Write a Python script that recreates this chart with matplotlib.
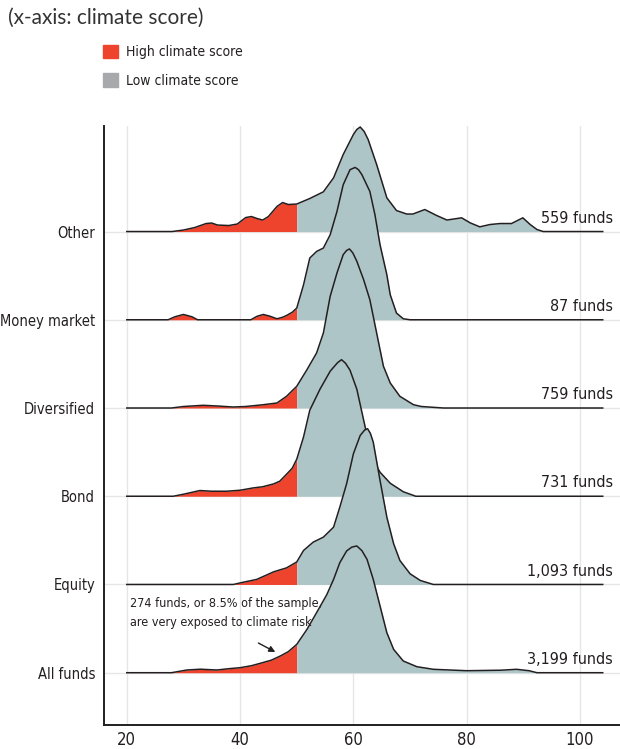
import matplotlib.pyplot as plt
from matplotlib.patches import Patch
import numpy as np

plt.rcParams['font.family'] = ['DejaVu Sans']
plt.rcParams['font.stretch'] = 'condensed'

groups = ['All funds', 'Equity', 'Bond', 'Diversified', 'Money market', 'Other']
fund_counts = ['3,199 funds', '1,093 funds', '731 funds', '759 funds', '87 funds', '559 funds']
x_ticks = [20, 40, 60, 80, 100]
cutoff = 50

# climate score / density (arbitrary units)
all_x = [20, 27.9, 30.6, 33, 35.9, 38, 40, 42, 43.5, 45.5, 47.1, 48.5, 50, 51.8, 53.5, 55.3, 56.5,
         57.6, 58.8, 59.7, 60.6, 61.5, 62.4, 63.5, 64.7, 65.9, 67.1, 68.8, 71.2, 74.1, 80, 86,
         88.8, 91, 92.4, 104]
all_d = [0, 0, 2.7, 3.5, 2.7, 4, 5, 7, 9.3, 12.5, 16.7, 21, 28.3, 43.3, 60, 78, 93.3,
         110, 121.7, 125.5, 126.7, 122, 113.3, 93.3, 66.7, 40, 23.3, 11.7, 6, 3.4, 2, 2.5,
         3.4, 2, 0, 0]

equity_x = [20, 38.8, 40.6, 42.9, 44.5, 45.9, 48.2, 50, 51.2, 52.9, 54.7, 56.5, 57.6, 58.8, 60,
            61.2, 62, 62.5, 63, 63.5, 64.7, 65.9, 67.1, 68.2, 70, 71.8, 74.1, 104]
equity_d = [0, 0, 2.3, 5, 9, 12.6, 16.6, 22.5, 34, 42.3, 47.3, 57.3, 77.3, 100.7, 130.7,
            149, 154.5, 155.7, 151, 142.3, 104, 67.3, 40.7, 24, 10.7, 4, 0, 0]

bond_x = [20, 28.2, 30, 32.9, 35, 37.6, 40, 42.3, 44, 45.9, 47, 48.2, 49.2, 50, 51.2, 52.3, 54.1,
          55.9, 57.2, 57.9, 58.6, 59.4, 60.6, 61.5, 62.2, 62.9, 64.7, 66.5, 68.8, 71, 104]
bond_d = [0, 0, 2, 5.7, 5, 5, 6, 8.3, 9.5, 12.3, 15, 22, 28, 37, 59.3, 86, 107,
          125, 133.5, 136.5, 133, 126, 107, 84, 66, 42, 24, 13, 4.5, 0, 0]

diversified_x = [20, 27.9, 30, 33.5, 36, 38.8, 41, 44.1, 46.5, 48.2, 50, 51.8, 53.5, 54.7, 55.9,
                 57.1, 58.2, 58.8, 59.3, 59.9, 60.6, 61.8, 62.9, 64.1, 65.3, 66.5, 68.2, 70.6,
                 72, 75.9, 104]
diversified_d = [0, 0, 1.5, 2.7, 2, 1, 1.5, 3.3, 5, 11.7, 21.7, 38.3, 55, 75, 111.7,
                 135, 153.3, 157.5, 159, 155, 146.7, 128.3, 108.3, 75, 41.7, 25, 11.7, 3.3,
                 1.5, 0, 0]

money_x = [20, 27.3, 28.5, 30, 31.5, 32.5, 41.9, 43, 44.1, 45.3, 46.5, 47.5, 48.2, 49.2, 50, 51.2,
           52.3, 53.5, 54.7, 55.9, 57.1, 58.2, 59.4, 60.3, 60.9, 61.5, 62.9, 63.8, 64.7, 65.9,
           66.5, 67.6, 68.8, 70, 104]
money_d = [0, 0, 3, 5.3, 3, 0, 0, 3.5, 5.3, 3.5, 1, 2.5, 4.3, 7.5, 11.7, 35,
           61.7, 68.3, 71.7, 85, 108.3, 135, 150, 152.3, 150, 145, 128.3, 105, 75, 45,
           25, 6.7, 1, 0, 0]

other_x = [20, 28, 30, 32, 34, 35, 36, 38, 39.5, 41, 42, 43, 44, 45, 46.5, 47.5, 48.5, 50, 52.3,
           54.7, 56.5, 58.2, 60, 60.6, 61.2, 61.9, 62.6, 64.1, 65.9, 67.6, 69.4, 70.5, 72.6,
           74.7, 76.5, 79.1, 80.6, 82.3, 84.1, 85.9, 87.9, 89.9, 91.2, 92.4, 93.5, 104]
other_d = [0, 0, 1.5, 4, 8, 8.5, 6.5, 6, 7.5, 14, 15, 13, 11.5, 15, 25, 29, 27, 27.5, 33,
           39.7, 53.7, 77, 97, 102, 104.5, 100, 92, 67, 33.7, 21, 17.5, 17.5, 22,
           16, 11.5, 13.7, 8.7, 4.7, 7, 8, 8, 13.7, 7, 2, 0, 0]

ridges = [(all_x, all_d), (equity_x, equity_d), (bond_x, bond_d),
          (diversified_x, diversified_d), (money_x, money_d), (other_x, other_d)]
ridge_scale = 1 / 88.2

red = '#ee432c'
blue_gray = '#aec5c8'
legend_gray = '#a7a9ac'
ink = '#231f20'

fig = plt.figure(figsize=(6.2, 7.49), dpi=100)
ax = fig.add_axes([0.167, 0.032, 0.833, 0.8])

for i, (xs, ds) in enumerate(ridges):
    xs = np.array(xs, dtype=float)
    ys = np.array(ds) * ridge_scale + i
    z = 10 - i
    lo = xs <= cutoff
    hi = xs >= cutoff
    ax.fill_between(xs[lo], i, ys[lo], color=red, lw=0, zorder=z)
    ax.fill_between(xs[hi], i, ys[hi], color=blue_gray, lw=0, zorder=z)
    ax.plot(xs, ys, color=ink, lw=1.1, zorder=z + 0.5, clip_on=False,
            solid_joinstyle='round')
    ax.text(105.8, i + 0.1, fund_counts[i], ha='right', va='baseline',
            fontsize=11.5, color=ink)

ax.set_xlim(15.9, 107.05)
ax.set_ylim(-0.593, 6.198)
ax.set_xticks(x_ticks)
ax.set_yticks(range(len(groups)))
ax.set_yticklabels(groups)
ax.tick_params(length=0, labelsize=10.5, labelcolor=ink)
ax.tick_params(axis='y', pad=6)
ax.tick_params(axis='x', pad=4, labelsize=12)
ax.grid(color='#e6e6e6', lw=1)
ax.set_axisbelow(True)
for s in ['top', 'right']:
    ax.spines[s].set_visible(False)
for s in ['left', 'bottom']:
    ax.spines[s].set_linewidth(1.4)
    ax.spines[s].set_color(ink)

ax.text(20.6, 0.78, '274 funds, or 8.5% of the sample,', fontsize=9, color=ink,
        va='center', zorder=20)
ax.text(20.6, 0.57, 'are very exposed to climate risk', fontsize=9, color=ink,
        va='center', zorder=20)
ax.annotate('', xy=(46.65, 0.22), xytext=(42.8, 0.351),
            arrowprops=dict(arrowstyle='-|>', color=ink, lw=1, mutation_scale=9))

fig.text(8 / 620, 1 - 18 / 749, '(x-axis: climate score)', fontsize=15,
         family=['Lato', 'DejaVu Sans'], stretch='normal', color='#333333',
         va='center', ha='left')

handles = [Patch(color=red, label='High climate score'),
           Patch(color=legend_gray, label='Low climate score')]
fig.legend(handles=handles, loc='upper left', bbox_to_anchor=(103 / 620, 1 - 45 / 749),
           frameon=False, fontsize=10, handlelength=1.1, handleheight=1.1,
           handletextpad=0.55, labelspacing=1.0, borderpad=0, borderaxespad=0,
           labelcolor=ink)

fig.savefig('out.png', dpi=100)
